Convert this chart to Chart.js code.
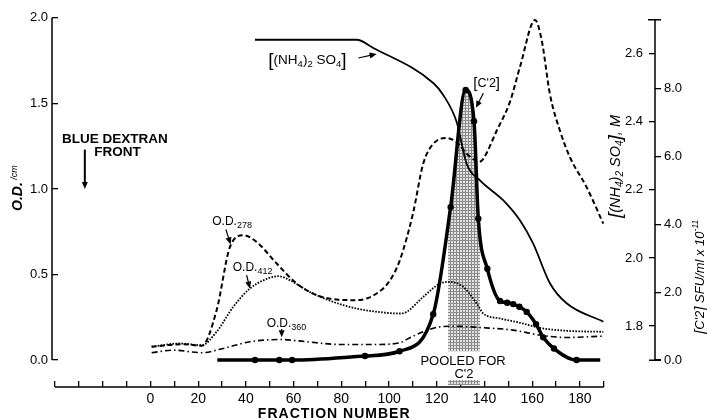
<!DOCTYPE html>
<html>
<head>
<meta charset="utf-8">
<script src="https://cdn.jsdelivr.net/npm/chart.js@4.4.0/dist/chart.umd.min.js"></script>
<style>
  html, body { margin: 0; padding: 0; background: #fff; }
  canvas { display: block; }
</style>
</head>
<body>
<canvas id="elutionChart" width="707" height="420"></canvas>
<script>
// Readings off the elution profile (fraction number vs value)
const fr278 = [0.5, 13.7, 21.5, 27.7, 33.3, 38.9, 44.5, 52.9, 61.3, 69.7, 78, 86.4, 94.8, 100.4, 104.5, 110, 114.3, 118.5, 124, 128.3, 133, 137.8, 139.5, 145.1, 150.7, 155, 161.2, 164, 167.4, 171.6, 175.8, 182.8, 189.8];
const od278 = [0.078, 0.093, 0.083, 0.29, 0.66, 0.729, 0.69, 0.564, 0.447, 0.379, 0.354, 0.35, 0.389, 0.466, 0.583, 0.855, 1.147, 1.263, 1.298, 1.273, 1.2, 1.159, 1.176, 1.34, 1.51, 1.72, 1.987, 1.866, 1.555, 1.341, 1.185, 1.01, 0.797];

const fr412 = [0.5, 12.4, 21.5, 27.7, 34.7, 41.7, 47.3, 53.6, 58.5, 66.8, 76.6, 86.4, 97.6, 104.3, 107.4, 114.3, 121.3, 125.5, 131.1, 136.7, 139.5, 146.5, 154.9, 163.2, 174.4, 189.8];
const od412 = [0.078, 0.097, 0.087, 0.165, 0.311, 0.418, 0.466, 0.49, 0.466, 0.398, 0.34, 0.301, 0.278, 0.272, 0.282, 0.369, 0.447, 0.457, 0.427, 0.331, 0.272, 0.243, 0.218, 0.188, 0.171, 0.165];

const fr360 = [0.5, 9.6, 21.5, 30.5, 41.7, 54.3, 65.5, 79.4, 93.4, 104.6, 107.4, 114.3, 121.3, 128.3, 138.1, 152, 163.2, 174.4, 189.8];
const od360 = [0.043, 0.058, 0.043, 0.068, 0.107, 0.12, 0.107, 0.091, 0.091, 0.101, 0.121, 0.165, 0.194, 0.198, 0.19, 0.175, 0.146, 0.132, 0.14];

const frSulfate = [43.8, 86.4, 93.4, 118.5, 122.7, 128.3, 132.5, 138.1, 147.9, 154.9, 160.4, 167.4, 174.4, 189.8];
const sulfate = [2.641, 2.641, 2.617, 2.514, 2.479, 2.4, 2.277, 2.228, 2.169, 2.11, 2.042, 1.926, 1.867, 1.813];

const frC2 = [28, 43.8, 54, 59.4, 89.9, 104.4, 118.5, 125.8, 132.1, 135.6, 137.4, 141.2, 146.5, 149.5, 152, 154.6, 157.7, 161.6, 164.6, 169.1, 178.6, 188.5];
const c2 = [0, 0, 0, 0, 0.12, 0.26, 1.35, 4.51, 7.96, 7.04, 4.17, 2.69, 1.74, 1.69, 1.65, 1.57, 1.42, 1.06, 0.67, 0.34, 0, 0];
const c2Dots = [0, 1, 1, 1, 1, 1, 1, 1, 1, 1, 1, 1, 1, 1, 1, 1, 1, 1, 1, 1, 1, 0];

// fractions pooled for C'2
const pooled = [124.7, 138.1];

// axis ticks
const xTicks = [-40, -30, -20, -10, 0, 10, 20, 30, 40, 50, 60, 70, 80, 90, 100, 110, 120, 130, 140, 150, 160, 170, 180, 190];
const xLabelled = [0, 20, 40, 60, 80, 100, 120, 140, 160, 180];
const odTicks = [0, 0.5, 1.0, 1.5, 2.0];
const sulfateTicks = [1.8, 2.0, 2.2, 2.4, 2.6];
const c2Ticks = [0, 2, 4, 6, 8];

const FONT = '"Liberation Sans", Arial, Helvetica, sans-serif';
Chart.defaults.font.family = FONT;
Chart.defaults.color = '#000';

const pts = (xs, ys) => xs.map((x, i) => ({ x: x, y: ys[i] }));
const setTicks = vals => scale => { scale.ticks = vals.map(v => ({ value: v })); };

// stipple used for the pooled fractions
function stipple(ctx) {
    const c = document.createElement('canvas');
    c.width = 3; c.height = 3;
    const g = c.getContext('2d');
    g.fillStyle = '#e2e2e2';
    g.fillRect(0, 0, 3, 3);
    g.fillStyle = '#8c8c8c';
    g.fillRect(0, 0, 3, 1);
    g.fillRect(0, 0, 1, 3);
    return ctx.createPattern(c, 'repeat');
}

// draw text pieces one after another: [text, size, shift, style]
function richText(ctx, parts, x, y, align) {
    const fontOf = p => (p[3] || '') + ' ' + p[1] + 'px ' + FONT;
    let w = 0;
    parts.forEach(p => { ctx.font = fontOf(p); w += ctx.measureText(p[0]).width; });
    let cx = align === 'center' ? x - w / 2 : x;
    ctx.textAlign = 'left';
    ctx.textBaseline = 'alphabetic';
    parts.forEach(p => {
        ctx.font = fontOf(p);
        ctx.fillText(p[0], cx, y + (p[2] || 0));
        cx += ctx.measureText(p[0]).width;
    });
}

function arrow(ctx, x1, y1, x2, y2) {
    const a = Math.atan2(y2 - y1, x2 - x1);
    const len = 7, half = 3;
    ctx.beginPath();
    ctx.moveTo(x1, y1);
    ctx.lineTo(x2 - Math.cos(a) * len * 0.6, y2 - Math.sin(a) * len * 0.6);
    ctx.stroke();
    ctx.beginPath();
    ctx.moveTo(x2, y2);
    ctx.lineTo(x2 - Math.cos(a) * len - Math.sin(a) * half, y2 - Math.sin(a) * len + Math.cos(a) * half);
    ctx.lineTo(x2 - Math.cos(a) * len + Math.sin(a) * half, y2 - Math.sin(a) * len - Math.cos(a) * half);
    ctx.closePath();
    ctx.fill();
}

const decor = {
    id: 'decor',
    beforeDatasetsDraw(chart) {
        // shade the area under [C'2] over the pooled fractions
        const ctx = chart.ctx;
        const x = chart.scales.x, y = chart.scales.y;
        const meta = chart.getDatasetMeta(0);
        const pts0 = meta.data;
        const left = x.getPixelForValue(pooled[0]);
        const right = x.getPixelForValue(pooled[1]);
        const base = y.getPixelForValue(0.05);
        ctx.save();
        ctx.fillStyle = stipple(ctx);
        ctx.beginPath();
        ctx.rect(left, chart.chartArea.top, right - left, base - chart.chartArea.top);
        ctx.clip();
        ctx.beginPath();
        meta.dataset.path(ctx);
        ctx.lineTo(pts0[pts0.length - 1].x, base);
        ctx.lineTo(pts0[0].x, base);
        ctx.closePath();
        ctx.fill();
        ctx.restore();
        // little bar on the fraction axis
        ctx.save();
        ctx.fillStyle = stipple(ctx);
        ctx.fillRect(left, y.getPixelForValue(-0.117), right - left, 5);
        ctx.restore();
    },
    afterDraw(chart) {
        const ctx = chart.ctx;
        const { x, y, y2 } = chart.scales;
        const X = v => x.getPixelForValue(v);
        const Y = v => y.getPixelForValue(v);
        ctx.save();
        ctx.strokeStyle = '#000';
        ctx.fillStyle = '#000';
        ctx.lineWidth = 1.5;

        // axis lines
        ctx.beginPath();
        ctx.moveTo(chart.chartArea.left, Y(0));
        ctx.lineTo(chart.chartArea.left, Y(2));
        ctx.moveTo(X(-40), chart.chartArea.bottom);
        ctx.lineTo(X(190), chart.chartArea.bottom);
        const rx = chart.chartArea.right;
        ctx.moveTo(rx, y2.getPixelForValue(1.7));
        ctx.lineTo(rx, y2.getPixelForValue(2.7));
        ctx.moveTo(rx - 7, y2.getPixelForValue(2.7));
        ctx.lineTo(rx + 6, y2.getPixelForValue(2.7));
        ctx.moveTo(rx - 6, y2.getPixelForValue(1.7));
        ctx.lineTo(rx + 6, y2.getPixelForValue(1.7));
        ctx.stroke();

        // axis titles
        ctx.save();
        ctx.letterSpacing = '1px';
        richText(ctx, [['FRACTION NUMBER', 14, 0, 'bold']], X(77), 418, 'center');
        ctx.restore();

        ctx.save();
        ctx.translate(22, 211);
        ctx.rotate(-Math.PI / 2);
        richText(ctx, [['O.D.', 14, 0, 'italic bold'], [' /cm', 9, -5, 'italic']], 0, 0, 'left');
        ctx.restore();

        ctx.save();
        ctx.translate(620, 218);
        ctx.rotate(-Math.PI / 2);
        richText(ctx, [['[', 19, 1, 'italic'], ['(NH', 14.5, 0, 'italic'], ['4', 10, 3, 'italic'], [')', 14.5, 0, 'italic'],
            ['2', 10, 3, 'italic'], [' SO', 14.5, 0, 'italic'], ['4', 10, 3, 'italic'], [']', 19, 1, 'italic'], [', M', 14.5, 0, 'italic']], 0, 0, 'left');
        ctx.restore();

        ctx.save();
        ctx.translate(704, 334);
        ctx.rotate(-Math.PI / 2);
        richText(ctx, [['[', 15, 1, 'italic'], ["C'2", 13, 0, 'italic'], [']', 15, 1, 'italic'], [' SFU/ml x 10', 13, 0, 'italic'], ['-11', 8.5, -6, 'italic']], 0, 0, 'left');
        ctx.restore();

        // labels on the plot
        richText(ctx, [['BLUE DEXTRAN', 13.5, 0, 'bold']], X(-14.9), Y(1.271), 'center');
        richText(ctx, [['FRONT', 13.5, 0, 'bold']], X(-13.8), Y(1.19), 'center');
        ctx.lineWidth = 2;
        arrow(ctx, X(-27.5), Y(1.23), X(-27.5), Y(1.0));
        ctx.lineWidth = 1.2;

        richText(ctx, [['O.D.', 12], ['278', 9, 3]], X(25.9), Y(0.787), 'left');
        arrow(ctx, X(31.6), Y(0.764), X(33.6), Y(0.676));
        richText(ctx, [['O.D.', 12], ['412', 9, 3]], X(34.5), Y(0.519), 'left');
        arrow(ctx, X(40.3), Y(0.496), X(41.7), Y(0.418));
        richText(ctx, [['O.D.', 12], ['360', 9, 3]], X(48.7), Y(0.192), 'left');
        arrow(ctx, X(55), Y(0.181), X(55), Y(0.134));

        richText(ctx, [['[', 19, 2], ['(NH', 13.5], ['4', 9.5, 3], [')', 13.5], ['2', 9.5, 3], [' SO', 13.5], ['4', 9.5, 3], [']', 19, 2]], X(49.4), Y(1.732), 'left');
        arrow(ctx, X(87.1), Y(1.765), X(94.8), Y(1.788));
        richText(ctx, [['[', 15, 1], ["C'2", 12.5], [']', 15, 1]], X(135.3), Y(1.598), 'left');
        arrow(ctx, X(139.5), Y(1.559), X(136.4), Y(1.474));

        richText(ctx, [['POOLED FOR', 13]], X(131), Y(-0.029), 'center');
        richText(ctx, [["C'2", 13]], X(131.4), Y(-0.105), 'center');
        ctx.restore();
    }
};

const tickGrid = len => ({ display: true, drawOnChartArea: false, drawTicks: true, tickLength: len, color: '#000', lineWidth: 1.3 });

new Chart(document.getElementById('elutionChart'), {
    type: 'line',
    data: {
        datasets: [
            {
                label: "[C'2]",
                data: pts(frC2, c2),
                yAxisID: 'y3',
                borderColor: '#000',
                backgroundColor: '#000',
                borderWidth: 3.5,
                pointRadius: c2Dots.map(d => d * 3.2),
                pointBorderWidth: 0,
                cubicInterpolationMode: 'monotone'
            },
            {
                label: '[(NH4)2SO4]',
                data: pts(frSulfate, sulfate),
                yAxisID: 'y2',
                borderColor: '#000',
                borderWidth: 1.8,
                pointRadius: 0,
                cubicInterpolationMode: 'monotone'
            },
            {
                label: 'O.D.278',
                data: pts(fr278, od278),
                yAxisID: 'y',
                borderColor: '#000',
                borderWidth: 2,
                borderDash: [5, 3],
                pointRadius: 0,
                cubicInterpolationMode: 'monotone'
            },
            {
                label: 'O.D.412',
                data: pts(fr412, od412),
                yAxisID: 'y',
                borderColor: '#000',
                borderWidth: 1.8,
                borderDash: [1.6, 1.4],
                pointRadius: 0,
                cubicInterpolationMode: 'monotone'
            },
            {
                label: 'O.D.360',
                data: pts(fr360, od360),
                yAxisID: 'y',
                borderColor: '#000',
                borderWidth: 1.6,
                borderDash: [6, 3, 1.5, 3],
                pointRadius: 0,
                cubicInterpolationMode: 'monotone'
            }
        ]
    },
    options: {
        responsive: false,
        animation: false,
        devicePixelRatio: 1,
        layout: { padding: { top: 17, right: 0, bottom: 0, left: 0 } },
        plugins: { legend: { display: false }, tooltip: { enabled: false } },
        scales: {
            x: {
                type: 'linear',
                min: -41.26,
                max: 211.45,
                afterBuildTicks: setTicks(xTicks),
                afterFit: s => { s.height = 33; },
                border: { display: false },
                grid: tickGrid(-6),
                ticks: {
                    autoSkip: false,
                    maxRotation: 0,
                    padding: 10,
                    font: { size: 14 },
                    callback: v => xLabelled.includes(v) ? String(v) : ''
                }
            },
            y: {
                position: 'left',
                min: -0.1574,
                max: 2.0,
                afterBuildTicks: setTicks(odTicks),
                afterFit: s => { s.width = 52; },
                border: { display: false },
                grid: tickGrid(-6),
                ticks: { padding: 10, font: { size: 13 }, callback: v => v.toFixed(1) }
            },
            y2: {
                position: 'right',
                min: 1.6212,
                max: 2.7055,
                afterBuildTicks: setTicks(sulfateTicks),
                afterFit: s => { s.width = 0; },
                border: { display: false },
                grid: tickGrid(-6),
                ticks: { mirror: true, padding: -12, font: { size: 13 }, callback: v => v.toFixed(1) }
            },
            y3: {
                position: 'right',
                min: -0.794,
                max: 10.09,
                afterBuildTicks: setTicks(c2Ticks),
                afterFit: s => { s.width = 52; },
                border: { display: false },
                grid: tickGrid(6),
                ticks: { padding: 3, font: { size: 13 }, callback: v => v.toFixed(1) }
            }
        }
    },
    plugins: [decor]
});
</script>
</body>
</html>
